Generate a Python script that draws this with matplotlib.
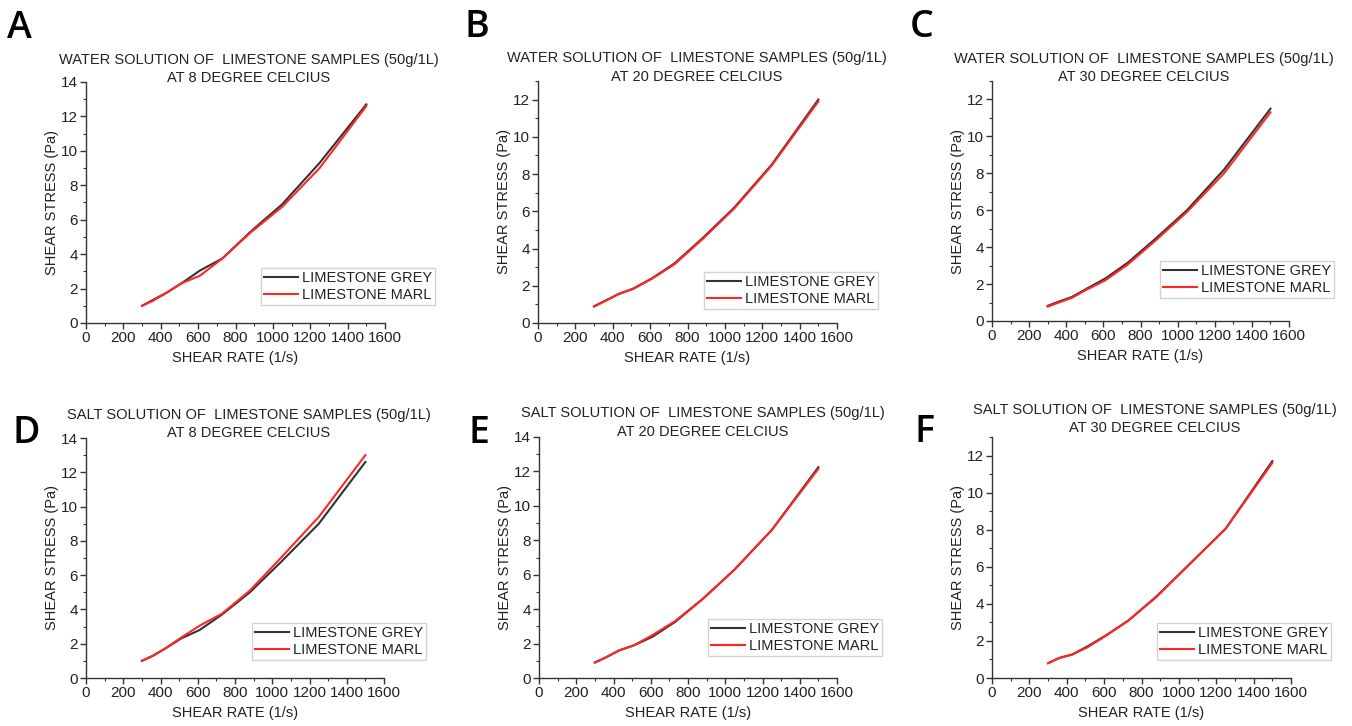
import matplotlib
matplotlib.use("Agg")
import matplotlib.pyplot as plt
from matplotlib.ticker import MultipleLocator

plt.rcParams['font.family'] = ['Liberation Sans', 'DejaVu Sans']

# ---------------- data ----------------
shear_rate = [300, 360, 430, 510, 610, 730, 880, 1050, 1250, 1500]

panel_letters = ["A", "B", "C", "D", "E", "F"]
title_line1 = [
    "WATER SOLUTION OF  LIMESTONE SAMPLES (50g/1L)",
    "WATER SOLUTION OF  LIMESTONE SAMPLES (50g/1L)",
    "WATER SOLUTION OF  LIMESTONE SAMPLES (50g/1L)",
    "SALT SOLUTION OF  LIMESTONE SAMPLES (50g/1L)",
    "SALT SOLUTION OF  LIMESTONE SAMPLES (50g/1L)",
    "SALT SOLUTION OF  LIMESTONE SAMPLES (50g/1L)",
]
title_line2 = [
    "AT 8 DEGREE CELCIUS",
    "AT 20 DEGREE CELCIUS",
    "AT 30 DEGREE CELCIUS",
    "AT 8 DEGREE CELCIUS",
    "AT 20 DEGREE CELCIUS",
    "AT 30 DEGREE CELCIUS",
]
series_names = ["LIMESTONE GREY", "LIMESTONE MARL"]

grey_A = [1.0, 1.35, 1.75, 2.3, 3.05, 3.75, 5.3, 6.9, 9.3, 12.7]
marl_A = [1.0, 1.3, 1.75, 2.3, 2.75, 3.75, 5.25, 6.75, 9.0, 12.6]
grey_B = [0.9, 1.2, 1.55, 1.85, 2.4, 3.2, 4.55, 6.2, 8.5, 12.0]
marl_B = [0.88, 1.18, 1.55, 1.83, 2.38, 3.15, 4.5, 6.15, 8.45, 11.9]
grey_C = [0.82, 1.05, 1.3, 1.75, 2.3, 3.15, 4.45, 6.0, 8.2, 11.5]
marl_C = [0.78, 1.0, 1.25, 1.7, 2.2, 3.05, 4.35, 5.9, 8.0, 11.3]
grey_D = [1.0, 1.3, 1.75, 2.3, 2.8, 3.7, 5.0, 6.8, 9.0, 12.6]
marl_D = [1.0, 1.3, 1.75, 2.35, 3.05, 3.75, 5.1, 7.05, 9.4, 13.0]
grey_E = [0.9, 1.2, 1.6, 1.9, 2.4, 3.25, 4.6, 6.3, 8.6, 12.25]
marl_E = [0.9, 1.2, 1.6, 1.9, 2.5, 3.3, 4.6, 6.3, 8.6, 12.15]
grey_F = [0.8, 1.08, 1.27, 1.7, 2.3, 3.1, 4.4, 6.07, 8.05, 11.7]
marl_F = [0.8, 1.08, 1.27, 1.65, 2.28, 3.1, 4.37, 6.07, 8.05, 11.6]

grey_series = [grey_A, grey_B, grey_C, grey_D, grey_E, grey_F]
marl_series = [marl_A, marl_B, marl_C, marl_D, marl_E, marl_F]
y_max = [14, 13, 13, 14, 14, 13]

# ---------------- layout (pixels) ----------------
W, H = 1352, 726
# left, right, top, bottom of each axes in pixels
boxes = [
    (86, 385, 82, 323),
    (538, 837, 81, 323),
    (992, 1289, 81, 321),
    (86, 384, 438, 678),
    (539, 837, 437, 678),
    (992, 1291, 437, 678),
]
legend_anchor = [(1.167, 0.228), (1.137, 0.211), (1.152, 0.25),
                 (1.141, 0.229), (1.151, 0.245), (1.134, 0.228)]
# (center x, line1 center y, line2 center y)
title_pos = [(249, 60, 78), (697, 58, 77), (1144, 59, 77),
             (249, 415, 433), (703, 413, 432), (1155, 410, 428)]
letter_pos = [(7, 38), (465, 37), (910, 37), (12, 443), (468, 443), (915, 442)]

GREY = '#333333'
RED = '#ff2626'
AX = '#333333'
TXT = '#222222'
FS = 10.5

fig = plt.figure(figsize=(W / 100, H / 100), dpi=100)

for i in range(6):
    l, r, t, b = boxes[i]
    ax = fig.add_axes([l / W, 1 - b / H, (r - l) / W, (b - t) / H])
    ax.plot(shear_rate, grey_series[i], color=GREY, lw=1.5, label=series_names[0])
    ax.plot(shear_rate, marl_series[i], color=RED, lw=1.5, label=series_names[1])
    ax.set_xlim(0, 1600)
    ax.set_ylim(0, y_max[i])
    ax.xaxis.set_major_locator(MultipleLocator(200))
    ax.xaxis.set_minor_locator(MultipleLocator(100))
    ax.yaxis.set_major_locator(MultipleLocator(2))
    ax.yaxis.set_minor_locator(MultipleLocator(1))
    for s in ['top', 'right']:
        ax.spines[s].set_visible(False)
    for s in ['left', 'bottom']:
        ax.spines[s].set_color(AX)
        ax.spines[s].set_linewidth(1.0)
    ax.tick_params(which='major', direction='out', length=4, width=1.0,
                   color=AX, labelsize=11, labelcolor=TXT, pad=2)
    ax.tick_params(which='minor', direction='out', length=2.5, width=0.8, color=AX)
    ax.set_xlabel("SHEAR RATE (1/s)", fontsize=FS, color=TXT, labelpad=4)
    ax.set_ylabel("SHEAR STRESS (Pa)", fontsize=FS, color=TXT, labelpad=1)
    leg = ax.legend(loc='upper right', bbox_to_anchor=legend_anchor[i],
                    borderaxespad=0, fontsize=FS, frameon=True, fancybox=False,
                    handlelength=2.3, handletextpad=0.3, borderpad=0.2,
                    labelspacing=0.2)
    leg.get_frame().set_edgecolor('#c8c8c8')
    leg.get_frame().set_linewidth(1.0)
    for txt in leg.get_texts():
        txt.set_color(TXT)

    tx, ty1, ty2 = title_pos[i]
    fig.text(tx / W, 1 - ty1 / H, title_line1[i], ha='center', va='center',
             fontsize=FS, color=TXT)
    fig.text(tx / W, 1 - ty2 / H, title_line2[i], ha='center', va='center',
             fontsize=FS, color=TXT)
    lx, ly = letter_pos[i]
    fig.text(lx / W, 1 - ly / H, panel_letters[i], ha='left', va='baseline',
             fontsize=27, family=['Open Sans', 'DejaVu Sans'],
             fontweight='semibold', color='black')

fig.savefig("out.png", dpi=100, facecolor='white')
